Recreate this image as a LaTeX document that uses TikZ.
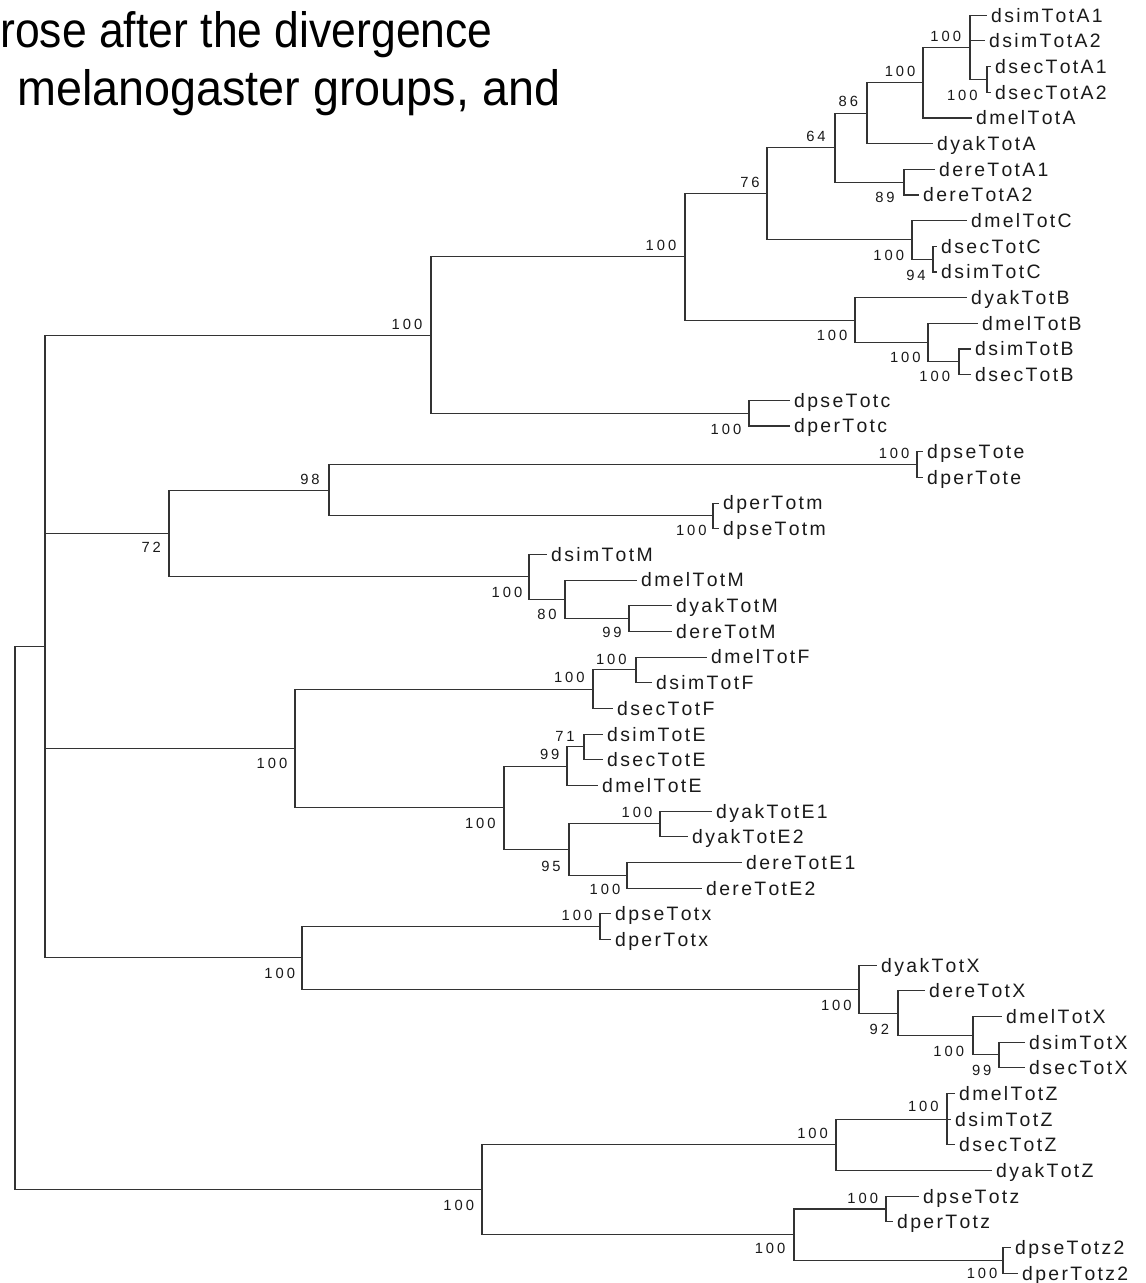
\documentclass[tikz,border=0pt]{standalone}
\usepackage{fontspec}
\setmainfont{Liberation Sans}
\newfontfamily\leaffont[LetterSpace=12,Kerning=Off]{Liberation Sans}
\newfontfamily\bootfont[LetterSpace=20,Kerning=Off]{Liberation Sans}
\begin{document}
\begin{tikzpicture}[x=0.02cm,y=-0.02cm,
  br/.style={draw=black!80,line width=0.6pt},
  leaf/.style={anchor=west,inner xsep=2.2pt,inner ysep=0pt,text=black!90,
    font=\leaffont\fontsize{11.05pt}{13pt}\selectfont,text height=7.9pt,text depth=0pt},
  boot/.style={inner sep=0pt,text=black!90,
    font=\bootfont\fontsize{8.4pt}{10pt}\selectfont,text height=6pt,text depth=0pt},
  ttl/.style={anchor=base west,inner sep=0pt,text=black,
    font=\fontsize{28.3pt}{34pt}\selectfont}]
\useasboundingbox (0,0) rectangle (1145,1283);
\clip (0,0) rectangle (1145,1283);
% title
\node[ttl] (t1) at (0,48) {\scalebox{0.895}[1]{rose after the divergence}};
\node[ttl] (t2) at (17,106) {\scalebox{0.94}[1]{melanogaster groups, and}};
% internal nodes
\coordinate (R0) at (15,918.1);
\coordinate (N45) at (45,646.48);
\coordinate (NA) at (431,335.07);
\coordinate (N100a) at (685,256.96);
\coordinate (N76) at (767,193.79);
\coordinate (N64) at (835,147.66);
\coordinate (N86) at (867,113.17);
\coordinate (N100b) at (923,82.69);
\coordinate (N970) at (970,47.39);
\coordinate (NsecA) at (987,79.48);
\coordinate (NdereA) at (904,182.16);
\coordinate (NC) at (912,239.91);
\coordinate (NsecC) at (933,259.17);
\coordinate (NB) at (855,320.13);
\coordinate (NB2) at (928,342.6);
\coordinate (NB3) at (959,361.85);
\coordinate (Nc) at (749,413.19);
\coordinate (N72) at (169,533.52);
\coordinate (N98) at (329,490.2);
\coordinate (Ne) at (917,464.53);
\coordinate (Nm) at (713,515.87);
\coordinate (NM) at (529,576.83);
\coordinate (NM2) at (565,599.3);
\coordinate (NM3) at (629,618.55);
\coordinate (NF) at (295,748.5);
\coordinate (NF1) at (593,689.14);
\coordinate (NF2) at (636,669.89);
\coordinate (NE) at (504,807.87);
\coordinate (NE1) at (567,766.15);
\coordinate (NE2) at (584,746.9);
\coordinate (NE4) at (569,849.58);
\coordinate (NE5) at (660,823.91);
\coordinate (NE6) at (627,875.25);
\coordinate (Nx) at (302,957.88);
\coordinate (Nx1) at (600,926.59);
\coordinate (NX) at (859,989.16);
\coordinate (NX2) at (898,1013.23);
\coordinate (NX3) at (973,1035.69);
\coordinate (NX4) at (999,1054.94);
\coordinate (Nz) at (482,1189.71);
\coordinate (NZ) at (836,1144.78);
\coordinate (NZ1) at (947,1119.11);
\coordinate (Nzz) at (794,1234.63);
\coordinate (Nz1) at (886,1208.96);
\coordinate (Nz2) at (1003,1260.3);
% leaves
\node[leaf] (dsimTotA1) at (987,15.3) {dsimTotA1};
\node[leaf] (dsimTotA2) at (985,40.97) {dsimTotA2};
\node[leaf] (dsecTotA1) at (991,66.64) {dsecTotA1};
\node[leaf] (dsecTotA2) at (991,92.31) {dsecTotA2};
\node[leaf] (dmelTotA) at (972,117.98) {dmelTotA};
\node[leaf] (dyakTotA) at (933,143.65) {dyakTotA};
\node[leaf] (dereTotA1) at (935,169.32) {dereTotA1};
\node[leaf] (dereTotA2) at (919,194.99) {dereTotA2};
\node[leaf] (dmelTotC) at (967,220.66) {dmelTotC};
\node[leaf] (dsecTotC) at (937,246.33) {dsecTotC};
\node[leaf] (dsimTotC) at (937,272.0) {dsimTotC};
\node[leaf] (dyakTotB) at (967,297.67) {dyakTotB};
\node[leaf] (dmelTotB) at (978,323.34) {dmelTotB};
\node[leaf] (dsimTotB) at (971,349.01) {dsimTotB};
\node[leaf] (dsecTotB) at (971,374.68) {dsecTotB};
\node[leaf] (dpseTotc) at (790,400.35) {dpseTotc};
\node[leaf] (dperTotc) at (790,426.02) {dperTotc};
\node[leaf] (dpseTote) at (923,451.69) {dpseTote};
\node[leaf] (dperTote) at (923,477.36) {dperTote};
\node[leaf] (dperTotm) at (719,503.03) {dperTotm};
\node[leaf] (dpseTotm) at (719,528.7) {dpseTotm};
\node[leaf] (dsimTotM) at (547,554.37) {dsimTotM};
\node[leaf] (dmelTotM) at (637,580.04) {dmelTotM};
\node[leaf] (dyakTotM) at (672,605.71) {dyakTotM};
\node[leaf] (dereTotM) at (672,631.38) {dereTotM};
\node[leaf] (dmelTotF) at (707,657.05) {dmelTotF};
\node[leaf] (dsimTotF) at (652,682.72) {dsimTotF};
\node[leaf] (dsecTotF) at (613,708.39) {dsecTotF};
\node[leaf] (dsimTotE) at (603,734.06) {dsimTotE};
\node[leaf] (dsecTotE) at (603,759.73) {dsecTotE};
\node[leaf] (dmelTotE) at (598,785.4) {dmelTotE};
\node[leaf] (dyakTotE1) at (712,811.07) {dyakTotE1};
\node[leaf] (dyakTotE2) at (688,836.74) {dyakTotE2};
\node[leaf] (dereTotE1) at (742,862.41) {dereTotE1};
\node[leaf] (dereTotE2) at (702,888.08) {dereTotE2};
\node[leaf] (dpseTotx) at (611,913.75) {dpseTotx};
\node[leaf] (dperTotx) at (611,939.42) {dperTotx};
\node[leaf] (dyakTotX) at (877,965.09) {dyakTotX};
\node[leaf] (dereTotX) at (925,990.76) {dereTotX};
\node[leaf] (dmelTotX) at (1002,1016.43) {dmelTotX};
\node[leaf] (dsimTotX) at (1025,1042.1) {dsimTotX};
\node[leaf] (dsecTotX) at (1025,1067.77) {dsecTotX};
\node[leaf] (dmelTotZ) at (955,1093.44) {dmelTotZ};
\node[leaf] (dsimTotZ) at (951,1119.11) {dsimTotZ};
\node[leaf] (dsecTotZ) at (955,1144.78) {dsecTotZ};
\node[leaf] (dyakTotZ) at (992,1170.45) {dyakTotZ};
\node[leaf] (dpseTotz) at (919,1196.12) {dpseTotz};
\node[leaf] (dperTotz) at (893,1221.79) {dperTotz};
\node[leaf] (dpseTotz2) at (1011,1247.46) {dpseTotz2};
\node[leaf] (dperTotz2) at (1018,1273.13) {dperTotz2};
% branches
\draw[br] (R0) |- (N45);  \draw[br] (R0) |- (Nz);
\draw[br] (N45) |- (NA);  \draw[br] (N45) |- (N72);
\draw[br] (N45) |- (NF);  \draw[br] (N45) |- (Nx);
\draw[br] (NA) |- (N100a); \draw[br] (NA) |- (Nc);
\draw[br] (N100a) |- (N76); \draw[br] (N100a) |- (NB);
\draw[br] (N76) |- (N64); \draw[br] (N76) |- (NC);
\draw[br] (N64) |- (N86); \draw[br] (N64) |- (NdereA);
\draw[br] (N86) |- (N100b); \draw[br] (N86) |- (dyakTotA.west);
\draw[br] (N100b) |- (N970); \draw[br] (N100b) |- (dmelTotA.west);
\draw[br] (N970) |- (dsimTotA1.west); \draw[br] (N970) |- (dsimTotA2.west);
\draw[br] (N970) |- (NsecA);
\draw[br] (NsecA) |- (dsecTotA1.west); \draw[br] (NsecA) |- (dsecTotA2.west);
\draw[br] (NdereA) |- (dereTotA1.west); \draw[br] (NdereA) |- (dereTotA2.west);
\draw[br] (NC) |- (dmelTotC.west); \draw[br] (NC) |- (NsecC);
\draw[br] (NsecC) |- (dsecTotC.west); \draw[br] (NsecC) |- (dsimTotC.west);
\draw[br] (NB) |- (dyakTotB.west); \draw[br] (NB) |- (NB2);
\draw[br] (NB2) |- (dmelTotB.west); \draw[br] (NB2) |- (NB3);
\draw[br] (NB3) |- (dsimTotB.west); \draw[br] (NB3) |- (dsecTotB.west);
\draw[br] (Nc) |- (dpseTotc.west); \draw[br] (Nc) |- (dperTotc.west);
\draw[br] (N72) |- (N98); \draw[br] (N72) |- (NM);
\draw[br] (N98) |- (Ne); \draw[br] (N98) |- (Nm);
\draw[br] (Ne) |- (dpseTote.west); \draw[br] (Ne) |- (dperTote.west);
\draw[br] (Nm) |- (dperTotm.west); \draw[br] (Nm) |- (dpseTotm.west);
\draw[br] (NM) |- (dsimTotM.west); \draw[br] (NM) |- (NM2);
\draw[br] (NM2) |- (dmelTotM.west); \draw[br] (NM2) |- (NM3);
\draw[br] (NM3) |- (dyakTotM.west); \draw[br] (NM3) |- (dereTotM.west);
\draw[br] (NF) |- (NF1); \draw[br] (NF) |- (NE);
\draw[br] (NF1) |- (NF2); \draw[br] (NF1) |- (dsecTotF.west);
\draw[br] (NF2) |- (dmelTotF.west); \draw[br] (NF2) |- (dsimTotF.west);
\draw[br] (NE) |- (NE1); \draw[br] (NE) |- (NE4);
\draw[br] (NE1) |- (NE2); \draw[br] (NE1) |- (dmelTotE.west);
\draw[br] (NE2) |- (dsimTotE.west); \draw[br] (NE2) |- (dsecTotE.west);
\draw[br] (NE4) |- (NE5); \draw[br] (NE4) |- (NE6);
\draw[br] (NE5) |- (dyakTotE1.west); \draw[br] (NE5) |- (dyakTotE2.west);
\draw[br] (NE6) |- (dereTotE1.west); \draw[br] (NE6) |- (dereTotE2.west);
\draw[br] (Nx) |- (Nx1); \draw[br] (Nx) |- (NX);
\draw[br] (Nx1) |- (dpseTotx.west); \draw[br] (Nx1) |- (dperTotx.west);
\draw[br] (NX) |- (dyakTotX.west); \draw[br] (NX) |- (NX2);
\draw[br] (NX2) |- (dereTotX.west); \draw[br] (NX2) |- (NX3);
\draw[br] (NX3) |- (dmelTotX.west); \draw[br] (NX3) |- (NX4);
\draw[br] (NX4) |- (dsimTotX.west); \draw[br] (NX4) |- (dsecTotX.west);
\draw[br] (Nz) |- (NZ); \draw[br] (Nz) |- (Nzz);
\draw[br] (NZ) |- (NZ1); \draw[br] (NZ) |- (dyakTotZ.west);
\draw[br] (NZ1) |- (dmelTotZ.west); \draw[br] (NZ1) |- (dsimTotZ.west);
\draw[br] (NZ1) |- (dsecTotZ.west);
\draw[br] (Nzz) |- (Nz1); \draw[br] (Nzz) |- (Nz2);
\draw[br] (Nz1) |- (dpseTotz.west); \draw[br] (Nz1) |- (dperTotz.west);
\draw[br] (Nz2) |- (dpseTotz2.west); \draw[br] (Nz2) |- (dperTotz2.west);
% bootstrap values
\node[boot] (bN970) at (945.7,36.7) {100};
\node[boot] (bN100b) at (900,71) {100};
\node[boot] (bNsecA) at (962.3,95.7) {100};
\node[boot] (bN86) at (848.3,101.7) {86};
\node[boot] (bN64) at (816,136.7) {64};
\node[boot] (bNdereA) at (885,197.7) {89};
\node[boot] (bN76) at (750,182.7) {76};
\node[boot] (bN100a) at (661,245) {100};
\node[boot] (bNC) at (888.7,255) {100};
\node[boot] (bNsecC) at (916,275) {94};
\node[boot] (bNB) at (832,335) {100};
\node[boot] (bNB2) at (905.3,357.7) {100};
\node[boot] (bNB3) at (934.7,376.7) {100};
\node[boot] (bNA) at (407,324) {100};
\node[boot] (bNc) at (726,429.6) {100};
\node[boot] (bN98) at (310,479.3) {98};
\node[boot] (bN72) at (151.2,547.7) {72};
\node[boot] (bNe) at (894,453) {100};
\node[boot] (bNm) at (691.3,530.7) {100};
\node[boot] (bNM) at (507,592.7) {100};
\node[boot] (bNM2) at (547,614) {80};
\node[boot] (bNM3) at (612,632.7) {99};
\node[boot] (bNF2) at (611.3,659.3) {100};
\node[boot] (bNF1) at (569.3,677.3) {100};
\node[boot] (bNE2) at (565,736) {71};
\node[boot] (bNE1) at (549.7,754.3) {99};
\node[boot] (bNE) at (480.3,823) {100};
\node[boot] (bNE5) at (637,812.3) {100};
\node[boot] (bNE4) at (551,866) {95};
\node[boot] (bNE6) at (605,889.3) {100};
\node[boot] (bNF) at (272,763.3) {100};
\node[boot] (bNx) at (279.7,973.3) {100};
\node[boot] (bNx1) at (577,915.5) {100};
\node[boot] (bNX) at (836.3,1005) {100};
\node[boot] (bNX2) at (879.3,1029) {92};
\node[boot] (bNX3) at (948.7,1051.7) {100};
\node[boot] (bNX4) at (981.7,1070) {99};
\node[boot] (bNz) at (458.7,1205.3) {100};
\node[boot] (bNZ) at (812.5,1133) {100};
\node[boot] (bNZ1) at (923.3,1106.3) {100};
\node[boot] (bNz1) at (862.7,1198) {100};
\node[boot] (bNzz) at (770,1248) {100};
\node[boot] (bNz2) at (982,1273.7) {100};
\end{tikzpicture}
\end{document}
